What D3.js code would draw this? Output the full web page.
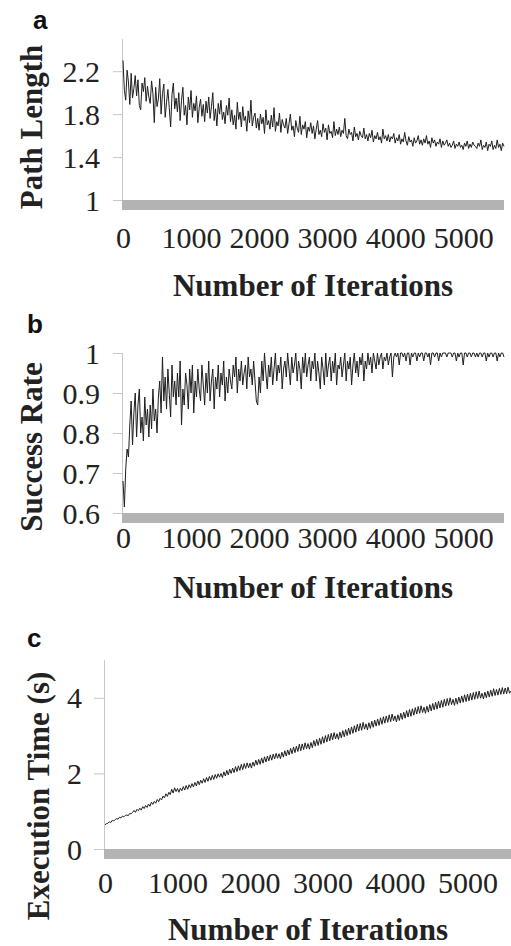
<!DOCTYPE html>
<html>
<head>
<meta charset="utf-8">
<script src="https://cdn.jsdelivr.net/npm/d3@7"></script>
<style>
  body { margin: 0; background: #fff; }
</style>
</head>
<body>
<div id="chart"></div>
<script>
// samples, one every 20 iterations (0..5600)
const iterStep = 20;
const xTicks = [0, 1000, 2000, 3000, 4000, 5000];

const pathLength = [
  2.30, 2.02, 1.93, 2.21, 2.10, 1.89, 2.18, 1.95, 2.04, 2.16, 1.97, 2.12, 1.88, 1.84, 2.09, 2.01, 2.14, 1.92, 2.06, 1.96,
  1.90, 2.11, 1.99, 1.72, 2.05, 1.87, 1.94, 2.13, 1.80, 1.99, 2.08, 1.77, 1.91, 2.03, 1.86, 1.68, 1.98, 2.09, 1.85, 1.95,
  1.82, 2.00, 1.74, 1.93, 2.05, 1.79, 1.88, 1.70, 1.96, 1.84, 2.02, 1.77, 1.90, 1.83, 1.97, 1.72, 1.86, 1.94, 1.78, 1.89,
  1.73, 1.92, 1.81, 1.96, 1.76, 1.87, 2.00, 1.74, 1.85, 1.69, 1.90, 1.80, 1.93, 1.75, 1.82, 1.71, 1.88, 1.79, 1.95, 1.73,
  1.84, 1.70, 1.79, 1.66, 1.91, 1.75, 1.82, 1.68, 1.87, 1.74, 1.78, 1.64, 1.83, 1.72, 1.93, 1.69, 1.77, 1.81, 1.67, 1.76,
  1.65, 1.80, 1.71, 1.77, 1.62, 1.84, 1.70, 1.74, 1.66, 1.79, 1.68, 1.86, 1.64, 1.73, 1.69, 1.81, 1.63, 1.75, 1.70, 1.67,
  1.76, 1.62, 1.71, 1.80, 1.65, 1.69, 1.59, 1.74, 1.67, 1.63, 1.78, 1.61, 1.70, 1.66, 1.73, 1.58, 1.68, 1.64, 1.72, 1.62,
  1.69, 1.57, 1.66, 1.74, 1.61, 1.65, 1.59, 1.71, 1.63, 1.67, 1.56, 1.70, 1.62, 1.64, 1.58, 1.73, 1.60, 1.66, 1.61, 1.68,
  1.59, 1.65, 1.62, 1.76, 1.60, 1.57, 1.66, 1.61, 1.63, 1.55, 1.68, 1.59, 1.62, 1.56, 1.64, 1.60, 1.58, 1.67, 1.57, 1.61,
  1.55, 1.62, 1.58, 1.65, 1.54, 1.60, 1.57, 1.63, 1.56, 1.59, 1.53, 1.66, 1.57, 1.60, 1.55, 1.61, 1.54, 1.59, 1.57, 1.62,
  1.53, 1.58, 1.55, 1.61, 1.52, 1.57, 1.54, 1.63, 1.55, 1.51, 1.59, 1.54, 1.56, 1.50, 1.58, 1.53, 1.55, 1.60, 1.52, 1.56,
  1.51, 1.57, 1.53, 1.60, 1.52, 1.55, 1.49, 1.58, 1.53, 1.56, 1.50, 1.54, 1.52, 1.57, 1.49, 1.55, 1.51, 1.53, 1.56, 1.50,
  1.53, 1.49, 1.51, 1.55, 1.48, 1.52, 1.50, 1.54, 1.49, 1.51, 1.47, 1.53, 1.50, 1.55, 1.48, 1.52, 1.49, 1.54, 1.51, 1.50,
  1.48, 1.53, 1.50, 1.56, 1.47, 1.51, 1.49, 1.54, 1.46, 1.52, 1.50, 1.55, 1.47, 1.51, 1.48, 1.56, 1.49, 1.52, 1.46, 1.53,
  1.50
];

const successRate = [
  0.68, 0.615, 0.71, 0.76, 0.74, 0.82, 0.88, 0.77, 0.85, 0.90, 0.79, 0.87, 0.91, 0.80, 0.84, 0.78, 0.89, 0.82, 0.86, 0.79,
  0.87, 0.81, 0.91, 0.83, 0.86, 0.80, 0.89, 0.93, 0.85, 0.99, 0.88, 0.94, 0.86, 0.96, 0.90, 0.84, 0.97, 0.89, 0.93, 0.87,
  0.95, 0.89, 0.98, 0.82, 0.91, 0.87, 0.95, 0.92, 0.86, 0.96, 0.90, 0.97, 0.85, 0.93, 0.89, 0.96, 0.91, 0.88, 0.97, 0.92,
  0.87, 0.95, 0.90, 0.98, 0.88, 0.93, 0.96, 0.86, 0.94, 0.91, 0.97, 0.89, 0.95, 0.92, 0.98, 0.88, 0.94, 0.90, 0.96, 0.93,
  0.91, 0.97, 0.94, 0.99, 0.90, 0.96, 0.93, 0.98, 0.92, 0.95, 0.97, 0.91, 0.99, 0.94, 0.96, 0.92, 0.98, 0.93, 0.88, 0.87,
  0.94, 0.90, 0.98, 0.93, 1.00, 0.95, 0.91, 0.97, 0.94, 0.99, 0.92, 0.96, 1.00, 0.93, 0.97, 0.95, 0.99, 0.91, 0.96, 0.98,
  0.94, 1.00, 0.96, 0.92, 0.99, 0.95, 0.97, 1.00, 0.93, 0.98, 0.96, 0.91, 0.99, 0.95, 1.00, 0.94, 0.97, 0.99, 0.93, 0.98,
  0.96, 1.00, 0.93, 0.98, 0.95, 0.91, 0.99, 0.96, 0.92, 1.00, 0.94, 0.97, 0.99, 0.93, 0.98, 0.95, 1.00, 0.92, 0.97, 0.96,
  0.99, 0.94, 0.97, 1.00, 0.93, 0.98, 0.96, 0.99, 0.92, 0.97, 1.00, 0.95, 0.98, 0.94, 0.99, 0.97, 1.00, 0.93, 0.98, 0.96,
  1.00, 0.97, 0.99, 0.95, 1.00, 0.98, 0.96, 1.00, 0.97, 0.99, 1.00, 0.96, 0.99, 0.98, 1.00, 0.97, 0.99, 1.00, 0.94, 0.99,
  1.00, 0.99, 1.00, 0.97, 1.00, 1.00, 0.99, 1.00, 0.98, 1.00, 1.00, 0.97, 1.00, 0.99, 1.00, 1.00, 0.98, 1.00, 0.99, 1.00,
  1.00, 0.98, 1.00, 1.00, 0.99, 1.00, 0.97, 1.00, 1.00, 0.99, 1.00, 1.00, 0.98, 1.00, 0.99, 1.00, 1.00, 1.00, 0.99, 1.00,
  1.00, 1.00, 0.99, 1.00, 1.00, 0.98, 1.00, 0.99, 1.00, 1.00, 0.97, 1.00, 1.00, 0.99, 1.00, 1.00, 0.99, 1.00, 1.00, 0.99,
  1.00, 0.99, 1.00, 1.00, 0.99, 1.00, 1.00, 0.98, 1.00, 0.99, 1.00, 1.00, 0.99, 1.00, 1.00, 0.98, 1.00, 0.99, 1.00, 1.00,
  0.99
];

const execTime = [
  0.64, 0.67, 0.68, 0.72, 0.70, 0.76, 0.74, 0.78, 0.80, 0.79, 0.84, 0.82, 0.87, 0.85, 0.89, 0.90, 0.88, 0.94, 0.93, 0.97,
  1.02, 0.97, 1.05, 1.01, 1.08, 1.03, 1.12, 1.07, 1.15, 1.10, 1.19, 1.13, 1.24, 1.18, 1.26, 1.21, 1.31, 1.25, 1.34, 1.30,
  1.40, 1.35, 1.46, 1.39, 1.50, 1.44, 1.58, 1.48, 1.62, 1.52, 1.60, 1.50, 1.61, 1.54, 1.65, 1.56, 1.68, 1.58, 1.70, 1.62,
  1.73, 1.64, 1.76, 1.67, 1.80, 1.70, 1.82, 1.74, 1.86, 1.76, 1.89, 1.79, 1.92, 1.82, 1.95, 1.84, 1.97, 1.87, 1.99, 1.90,
  2.00, 1.89, 2.04, 1.93, 2.08, 1.96, 2.11, 2.00, 2.14, 2.02, 2.18, 2.05, 2.20, 2.08, 2.24, 2.10, 2.26, 2.13, 2.28, 2.15,
  2.27, 2.14, 2.30, 2.19, 2.35, 2.22, 2.37, 2.24, 2.41, 2.27, 2.44, 2.30, 2.46, 2.33, 2.49, 2.35, 2.51, 2.38, 2.53, 2.40,
  2.52, 2.39, 2.56, 2.43, 2.60, 2.46, 2.62, 2.49, 2.66, 2.52, 2.70, 2.55, 2.72, 2.58, 2.77, 2.60, 2.78, 2.63, 2.81, 2.65,
  2.79, 2.64, 2.82, 2.68, 2.87, 2.72, 2.90, 2.74, 2.93, 2.77, 2.97, 2.80, 3.00, 2.83, 3.03, 2.86, 3.06, 2.89, 3.08, 2.91,
  3.05, 2.90, 3.09, 2.94, 3.13, 2.97, 3.16, 3.00, 3.20, 3.03, 3.23, 3.06, 3.26, 3.09, 3.30, 3.12, 3.32, 3.14, 3.35, 3.17,
  3.31, 3.15, 3.34, 3.19, 3.38, 3.22, 3.41, 3.25, 3.44, 3.27, 3.47, 3.30, 3.50, 3.33, 3.52, 3.35, 3.55, 3.37, 3.57, 3.39,
  3.52, 3.36, 3.55, 3.40, 3.59, 3.43, 3.62, 3.46, 3.66, 3.49, 3.69, 3.51, 3.71, 3.54, 3.74, 3.57, 3.77, 3.59, 3.79, 3.61,
  3.75, 3.59, 3.78, 3.62, 3.82, 3.65, 3.85, 3.68, 3.88, 3.70, 3.91, 3.73, 3.93, 3.75, 3.96, 3.78, 3.98, 3.80, 4.00, 3.82,
  3.96, 3.80, 3.99, 3.83, 4.02, 3.86, 4.05, 3.88, 4.08, 3.90, 4.10, 3.92, 4.12, 3.94, 4.14, 3.96, 4.16, 3.98, 4.18, 3.99,
  4.12, 3.97, 4.15, 4.00, 4.18, 4.02, 4.20, 4.04, 4.24, 4.06, 4.22, 4.07, 4.25, 4.09, 4.27, 4.10, 4.26, 4.11, 4.28, 4.12,
  4.18
];

const pathTicks = [1, 1.4, 1.8, 2.2];
const rateTicks = [0.6, 0.7, 0.8, 0.9, 1];
const timeTicks = [0, 2, 4];

const width = 511,
  height = 946;

let svg = d3
  .select("#chart")
  .append("svg")
  .attr("width", width)
  .attr("height", height)
  .style("display", "block");

const serif = "'Liberation Serif', 'Times New Roman', serif";

//one panel per series
const panels = [
  {
    tag: "a", tagX: 33, tagY: 29,
    values: pathLength, yDomain: [1, 2.5], yTicks: pathTicks,
    left: 123, right: 504, top: 39, bottom: 200, tickLen: 9, labelRight: 100,
    yTitle: "Path Length", yTitleX: 42, yTitleY: 127, xLabelY: 248, xTitleY: 296, xTitleX: 313,
  },
  {
    tag: "b", tagX: 27, tagY: 333,
    values: successRate, yDomain: [0.6, 1], yTicks: rateTicks,
    left: 123, right: 504, top: 353, bottom: 513, tickLen: 9, labelRight: 100,
    yTitle: "Success Rate", yTitleX: 42, yTitleY: 447, xLabelY: 548, xTitleY: 598, xTitleX: 313,
  },
  {
    tag: "c", tagX: 27, tagY: 647,
    values: execTime, yDomain: [0, 5], yTicks: timeTicks,
    left: 105, right: 511, top: 660, bottom: 849, tickLen: 10, labelRight: 82,
    yTitle: "Execution Time (s)", yTitleX: 49, yTitleY: 796, xLabelY: 893, xTitleY: 940, xTitleX: 308,
  },
];

panels.forEach((p) => {
  let g = svg.append("g");

  let x = d3.scaleLinear().domain([0, 5600]).range([p.left, p.right]);
  let y = d3.scaleLinear().domain(p.yDomain).range([p.bottom, p.top]);

  //gray floor band under the plot
  g.append("rect")
    .attr("x", x(0) - 1)
    .attr("y", y(p.yDomain[0]))
    .attr("width", x(5600) - x(0) + 1)
    .attr("height", 10)
    .attr("fill", "#b3b3b3");

  //y axis
  let yAxis = g
    .append("g")
    .attr("transform", `translate(${x(0) - 1},0)`)
    .call(d3.axisLeft(y).tickValues(p.yTicks).tickSize(p.tickLen).tickFormat((d) => String(d)));
  yAxis.select(".domain").attr("stroke", "#c8c8c8").attr("d", `M0.5,${p.bottom}V${p.top}`);
  yAxis.selectAll(".tick line").attr("stroke", "#c8c8c8");
  yAxis
    .selectAll(".tick text")
    .attr("x", p.labelRight - (x(0) - 1))
    .attr("dy", null)
    .attr("y", 10)
    .style("font-family", serif)
    .style("font-size", "30px")
    .attr("fill", "#222");

  //x tick labels only
  let xAxis = g
    .append("g")
    .attr("transform", `translate(0,${p.xLabelY})`)
    .call(d3.axisBottom(x).tickValues(xTicks).tickSize(0).tickFormat((d) => String(d)));
  xAxis.select(".domain").remove();
  xAxis
    .selectAll(".tick text")
    .attr("y", 0)
    .attr("dy", null)
    .style("font-family", serif)
    .style("font-size", "30px")
    .attr("fill", "#222");

  //the series
  let line = d3
    .line()
    .x((d, i) => x(i * iterStep))
    .y((d) => y(d));

  g.append("path")
    .datum(p.values)
    .attr("d", line)
    .attr("fill", "none")
    .attr("stroke", "#1e1e1e")
    .attr("stroke-width", 1);

  //titles
  g.append("text")
    .attr("x", p.xTitleX)
    .attr("y", p.xTitleY)
    .attr("text-anchor", "middle")
    .style("font-family", serif)
    .style("font-weight", "bold")
    .style("font-size", "31px")
    .attr("fill", "#222")
    .text("Number of Iterations");

  g.append("text")
    .attr("transform", `translate(${p.yTitleX},${p.yTitleY}) rotate(-90)`)
    .attr("text-anchor", "middle")
    .style("font-family", serif)
    .style("font-weight", "bold")
    .style("font-size", "31px")
    .attr("fill", "#222")
    .text(p.yTitle);

  g.append("text")
    .attr("x", p.tagX)
    .attr("y", p.tagY)
    .style("font-family", "'Liberation Sans', Arial, sans-serif")
    .style("font-weight", "bold")
    .style("font-size", "26px")
    .attr("fill", "#111")
    .text(p.tag);
});
</script>
</body>
</html>
